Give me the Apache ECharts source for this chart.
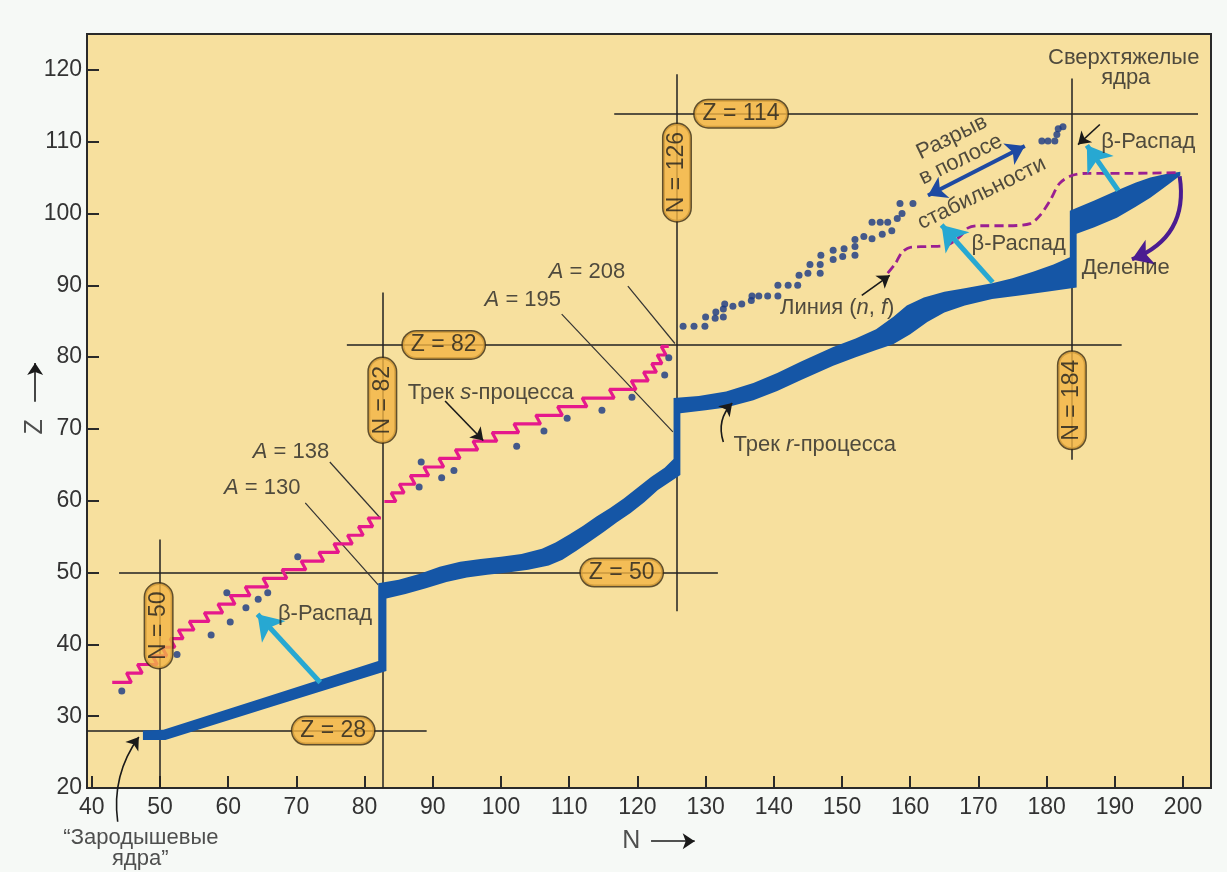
<!DOCTYPE html>
<html>
<head>
<meta charset="utf-8">
<title>Треки s- и r-процессов</title>
<script src="https://cdn.jsdelivr.net/npm/echarts@6.0.0/dist/echarts.min.js"></script>
<style>
  html, body { margin: 0; padding: 0; background: #f6f9f6; }
  #chart { width: 1227px; height: 872px; }
</style>
</head>
<body>
<div id="chart"></div>
<script>
// деления осей
var xTicks = [40, 50, 60, 70, 80, 90, 100, 110, 120, 130, 140, 150, 160, 170, 180, 190, 200];
var yTicks = [20, 30, 40, 50, 60, 70, 80, 90, 100, 110, 120];

// трек r-процесса: верхняя и нижняя граница полосы [N, Z]
var rUpper = [[47.5, 28.0], [50.5, 28.1], [66, 32.8], [82.0, 37.7], [82.0, 48.5],
  [85, 49.0], [88, 49.8], [91, 50.8], [94, 51.5], [97, 51.9], [100, 52.2], [103, 52.6], [106, 53.3], [108, 54.2],
  [110, 55.3], [112, 56.5], [114, 57.8], [116, 59.0], [118, 60.3], [120, 61.8], [122, 63.3], [124, 64.6], [125.3, 65.8],
  [125.3, 74.3], [129, 74.6], [133, 75.2], [137, 76.4], [140.5, 77.8], [144, 79.4], [148.7, 81.4], [152, 82.6],
  [155, 83.9], [157.5, 85.6], [159.5, 87.2], [162, 88.3], [165, 89.1], [168, 89.6], [172, 90.3], [175, 91.0],
  [178, 91.9], [181, 92.9], [183.4, 93.9],
  [183.4, 100.4], [187, 101.8], [190.3, 103.2], [193, 104.3], [195.2, 105.0], [197.5, 105.5], [199.6, 105.8]];
var rLower = [[47.5, 26.7], [50.8, 26.7], [66, 31.2], [83.2, 36.3], [83.2, 46.4],
  [86, 47.0], [89, 47.8], [92, 48.7], [95, 49.3], [98, 49.7], [101, 50.0], [104, 50.4], [107, 51.0], [109, 51.8],
  [111, 53.0], [113, 54.3], [115, 55.6], [117, 57.0], [119, 58.3], [121, 59.8], [123, 61.5], [126.3, 63.6],
  [126.3, 72.2], [130, 72.6], [133, 73.0], [137, 74.0], [140.5, 75.3], [144, 76.8], [148.7, 78.8], [152, 80.0],
  [155, 81.0], [157.5, 81.8], [160, 83.2], [162.5, 84.9], [165, 86.2], [168, 87.2], [172, 88.1], [176, 88.6],
  [180, 89.1], [184.4, 89.7],
  [184.4, 97.2], [187, 98.1], [190.3, 99.4], [193, 100.9], [195.2, 102.2], [197.5, 103.8], [199.6, 105.3]];

// трек s-процесса до и после N = 82
var sTrackA = [[43.0, 34.7], [45.8, 34.7], [45.1, 36.0], [47.4, 36.0], [46.7, 37.2], [49.6, 37.2], [48.9, 38.4], [51.0, 38.4],
  [50.3, 39.6], [52.2, 39.6], [51.5, 40.8], [53.4, 40.8], [52.7, 42.0], [55.0, 42.0], [54.3, 43.2], [57.2, 43.2],
  [56.5, 44.4], [59.2, 44.4], [58.5, 45.6], [61.0, 45.6], [60.3, 46.8], [63.2, 46.8], [62.5, 48.0], [65.8, 48.0],
  [65.1, 49.2], [68.6, 49.2], [67.9, 50.4], [71.4, 50.4], [70.7, 51.6], [74.0, 51.6], [73.3, 52.8], [76.2, 52.8],
  [75.5, 54.0], [78.2, 54.0], [77.5, 55.2], [79.8, 55.2], [79.1, 56.4], [81.2, 56.4], [80.5, 57.6], [82.4, 57.6]];
var sTrackB = [[82.9, 59.9], [84.6, 59.9], [83.9, 61.1], [85.8, 61.1], [85.1, 62.3], [87.4, 62.3], [86.7, 63.5], [89.4, 63.5],
  [88.7, 64.7], [91.6, 64.7], [90.9, 65.9], [94.0, 65.9], [93.3, 67.1], [96.6, 67.1], [95.9, 68.3], [99.4, 68.3],
  [98.7, 69.5], [102.6, 69.5], [101.9, 70.7], [105.8, 70.7], [105.1, 71.9], [109.0, 71.9], [108.3, 73.1], [112.6, 73.1],
  [111.9, 74.3], [116.6, 74.3], [115.9, 75.5], [119.8, 75.5], [119.1, 76.7], [121.6, 76.7], [120.9, 77.9], [122.8, 77.9],
  [122.1, 79.1], [123.6, 79.1], [122.9, 80.3], [124.2, 80.3], [123.5, 81.5], [124.6, 81.5]];

// стабильные ядра
var stableDots = [[44.4, 33.5], [52.5, 38.6], [57.5, 41.3], [60.3, 43.1], [59.8, 47.2], [62.6, 45.1], [64.4, 46.3],
  [65.8, 47.2], [70.2, 52.2], [88.0, 61.9], [88.3, 65.4], [91.3, 63.2], [93.1, 64.2], [102.3, 67.6], [106.3, 69.7],
  [109.7, 71.5], [114.8, 72.6], [119.2, 74.4], [124.0, 77.5], [124.6, 79.9]];
var heavyDots = [[126.7, 84.3], [128.3, 84.3], [129.9, 84.3], [130.0, 85.6], [131.4, 85.4], [131.5, 86.3], [132.6, 85.6],
  [132.6, 86.7], [132.8, 87.4], [134.0, 87.1], [135.3, 87.4], [136.7, 87.9], [136.8, 88.5], [137.8, 88.5], [139.1, 88.5],
  [140.6, 88.5], [140.6, 90.0], [142.1, 90.0], [143.5, 90.0], [143.7, 91.4], [145.0, 91.7], [145.3, 92.9], [146.8, 91.7],
  [146.8, 92.9], [146.9, 94.2], [148.7, 93.6], [148.7, 94.9], [150.1, 94.0], [150.3, 95.1], [151.9, 94.2], [151.9, 95.4],
  [151.9, 96.4], [153.2, 96.8], [154.4, 96.5], [154.4, 98.8], [155.6, 98.8], [155.9, 97.1], [156.7, 98.8], [157.3, 97.6],
  [158.1, 99.3], [158.8, 100.0], [158.5, 101.4], [160.4, 101.4],
  [179.3, 110.1], [180.2, 110.1], [181.2, 110.1], [181.5, 111.0], [181.7, 111.8], [182.4, 112.1]];

// линия (n, f)
var nfLine = [[156.7, 91.7], [157.8, 93.0], [158.8, 94.6], [160.0, 95.3], [162.5, 95.4], [165.4, 95.6], [167.3, 96.8],
  [168.5, 98.0], [170.2, 98.3], [174.2, 98.3], [177.6, 98.6], [179.0, 99.7], [180.5, 101.8], [181.9, 104.2],
  [183.7, 105.3], [186.0, 105.6], [192.0, 105.6], [199.6, 105.7]];

// линии магических чисел
var magicLines = [
  [[39.3, 28], [89.1, 28]],
  [[50, 54.6], [50, 20]],
  [[44.0, 50], [131.8, 50]],
  [[82.6, 89.0], [82.6, 20]],
  [[77.4, 81.7], [191, 81.7]],
  [[125.8, 119.4], [125.8, 44.6]],
  [[116.6, 113.9], [202.2, 113.9]],
  [[183.7, 118.8], [183.7, 65.7]]
];
var magicBadges = [
  ['Z = 28', 75.4, 28, 0], ['N = 50', 49.8, 42.6, 90], ['Z = 50', 117.7, 50, 0], ['N = 82', 82.6, 74.0, 90],
  ['Z = 82', 91.6, 81.7, 0], ['Z = 114', 135.2, 113.9, 0], ['N = 126', 125.8, 105.7, 90], ['N = 184', 183.7, 74.0, 90]
];

// выноски A = ...
var leaders = [
  [[71.3, 59.7], [82.0, 48.3]],
  [[74.9, 65.4], [82.3, 57.6]],
  [[108.9, 86.0], [125.2, 69.6]],
  [[118.6, 89.9], [125.5, 81.9]]
];

// стрелки
var blackArrows = [
  [[91.8, 73.9], [97.4, 68.4]],
  [[152.9, 88.6], [157.0, 91.4]],
  [[187.8, 112.4], [184.6, 109.6]],
  [[31.7, 73.8], [31.7, 79.2]],
  [[122.0, 12.6], [128.4, 12.6]]
];
var curvedArrows = [
  [[132.6, 68.2], [133.9, 73.6]],
  [[43.8, 15.3], [46.9, 27.1]]
];
var betaArrows = [
  [[73.5, 34.7], [64.3, 44.2]],
  [[172.1, 90.4], [164.6, 98.4]],
  [[190.5, 103.2], [185.9, 109.5]]
];
var gapArrow = [[162.6, 102.5], [176.8, 109.4]];
var fissionArrow = [[199.5, 105.2], [192.5, 93.6]];

// подписи [текст, N, Z, поворот]
var notes = [
  ['{i|A} = 130', 65.0, 61.8, 0], ['{i|A} = 138', 69.2, 66.8, 0], ['{i|A} = 195', 103.2, 88.0, 0], ['{i|A} = 208', 112.6, 91.9, 0],
  ['Трек {i|s}-процесса', 98.5, 75.0, 0], ['Трек {i|r}-процесса', 146.0, 67.8, 0], ['Линия ({i|n}, {i|f})', 149.3, 86.9, 0],
  ['β-Распад', 74.2, 44.2, 0], ['β-Распад', 175.9, 95.8, 0], ['β-Распад', 194.9, 109.9, 0], ['Деление', 191.6, 92.4, 0],
  ['Сверхтяжелые', 191.3, 121.7, 0], ['ядра', 191.6, 118.9, 0],
  ['Разрыв', 166.1, 110.6, 26], ['в полосе', 167.4, 107.5, 26], ['стабильности', 170.5, 102.8, 26],
  ['“Зародышевые', 47.2, 13.1, 0], ['ядра”', 47.1, 10.1, 0]
];
var axisNotes = [['N', 119.1, 12.6, 0], ['Z', 31.7, 70.3, 90]];

var FONT = 'Liberation Sans';
var chart = echarts.init(document.getElementById('chart'));

function segs(list) {
  return list.map(function (c) { return { coords: c }; });
}
function textItems(list) {
  return list.map(function (n) {
    return { value: [n[1], n[2]], label: { formatter: n[0], rotate: n[3] } };
  });
}

var option = {
  animation: false,
  backgroundColor: '#f6f9f6',
  textStyle: { fontFamily: FONT },
  grid: {
    left: 87, right: 16, top: 34, bottom: 84,
    show: true, backgroundColor: '#f7e09e', borderColor: '#2a2a2a', borderWidth: 2
  },
  xAxis: {
    type: 'value', min: 39.3, max: 204.1,
    axisLine: { show: true, onZero: false, lineStyle: { color: '#2a2a2a', width: 2 } },
    axisTick: { show: true, inside: true, length: 12, customValues: xTicks, lineStyle: { color: '#2a2a2a', width: 2 } },
    axisLabel: { customValues: xTicks, fontSize: 23, color: '#333', margin: 8, fontFamily: FONT },
    splitLine: { show: false }
  },
  yAxis: {
    type: 'value', min: 20, max: 125,
    axisLine: { show: true, onZero: false, lineStyle: { color: '#2a2a2a', width: 2 } },
    axisTick: { show: true, inside: true, length: 12, customValues: yTicks, lineStyle: { color: '#2a2a2a', width: 2 } },
    axisLabel: { customValues: yTicks, fontSize: 23, color: '#333', margin: 5, fontFamily: FONT },
    splitLine: { show: false }
  },
  series: [
    {
      type: 'lines', coordinateSystem: 'cartesian2d', silent: true, z: 2,
      data: segs(magicLines),
      lineStyle: { color: '#222', width: 1.5, opacity: 1 }
    },
    {
      type: 'lines', coordinateSystem: 'cartesian2d', silent: true, z: 2,
      data: segs(leaders),
      lineStyle: { color: '#333', width: 1.2, opacity: 1 }
    },
    {
      name: 'Трек r-процесса',
      type: 'custom', coordinateSystem: 'cartesian2d', silent: true, z: 3,
      data: [[100, 60]],
      renderItem: function (params, api) {
        var pts = rUpper.concat(rLower.slice().reverse()).map(function (p) { return api.coord(p); });
        return { type: 'polygon', shape: { points: pts }, style: { fill: '#1556a6' } };
      }
    },
    {
      name: 'Трек s-процесса', type: 'line', data: sTrackA, showSymbol: false, silent: true, z: 4,
      lineStyle: { color: '#e5198c', width: 3.2 }
    },
    {
      name: 'Трек s-процесса', type: 'line', data: sTrackB, showSymbol: false, silent: true, z: 4,
      lineStyle: { color: '#e5198c', width: 3.2 }
    },
    {
      name: 'Линия (n, f)', type: 'line', data: nfLine, showSymbol: false, silent: true, smooth: 0.3, z: 4,
      lineStyle: { color: '#9a1f92', width: 2.8, type: [9, 5] }
    },
    {
      type: 'scatter', data: stableDots.concat(heavyDots), symbolSize: 7, silent: true, z: 5,
      itemStyle: { color: '#173784' }
    },
    {
      type: 'lines', coordinateSystem: 'cartesian2d', silent: true, z: 6, clip: false,
      data: segs(betaArrows),
      symbol: ['none', 'arrow'], symbolSize: 24,
      lineStyle: { color: '#27a8d2', width: 5, opacity: 1 }
    },
    {
      type: 'lines', coordinateSystem: 'cartesian2d', silent: true, z: 6,
      data: [{ coords: gapArrow }],
      symbol: ['arrow', 'arrow'], symbolSize: 18,
      lineStyle: { color: '#1e4aa2', width: 4, opacity: 1 }
    },
    {
      type: 'lines', coordinateSystem: 'cartesian2d', silent: true, z: 6,
      data: [{ coords: fissionArrow }],
      symbol: ['none', 'arrow'], symbolSize: 20,
      lineStyle: { color: '#4b1c91', width: 4, opacity: 1, curveness: 0.4 }
    },
    {
      type: 'lines', coordinateSystem: 'cartesian2d', silent: true, z: 6, clip: false,
      data: segs(blackArrows),
      symbol: ['none', 'arrow'], symbolSize: 12,
      lineStyle: { color: '#1a1a1a', width: 1.6, opacity: 1 }
    },
    {
      type: 'lines', coordinateSystem: 'cartesian2d', silent: true, z: 6, clip: false,
      data: [
        { coords: curvedArrows[0], lineStyle: { curveness: 0.3 } },
        { coords: curvedArrows[1], lineStyle: { curveness: 0.2 } }
      ],
      symbol: ['none', 'arrow'], symbolSize: 12,
      lineStyle: { color: '#1a1a1a', width: 1.6, opacity: 1 }
    },
    {
      type: 'scatter', silent: true, z: 8, symbolSize: 0,
      data: textItems(magicBadges),
      label: {
        show: true, position: 'inside', fontSize: 23, color: '#1e1e1e', fontFamily: FONT,
        backgroundColor: '#f3b443', borderColor: '#3a2b10', borderWidth: 1.5, borderRadius: 14, padding: [2, 8]
      }
    },
    {
      type: 'scatter', silent: true, z: 9, symbolSize: 0, clip: false,
      data: textItems(notes),
      label: {
        show: true, position: 'inside', fontSize: 22, color: '#242424', fontFamily: FONT,
        rich: { i: { fontStyle: 'italic', fontSize: 22, color: '#242424', fontFamily: FONT } }
      }
    },
    {
      type: 'scatter', silent: true, z: 9, symbolSize: 0, clip: false,
      data: textItems(axisNotes),
      label: { show: true, position: 'inside', fontSize: 25, color: '#242424', fontFamily: FONT }
    }
  ]
};

chart.setOption(option);
</script>
</body>
</html>
